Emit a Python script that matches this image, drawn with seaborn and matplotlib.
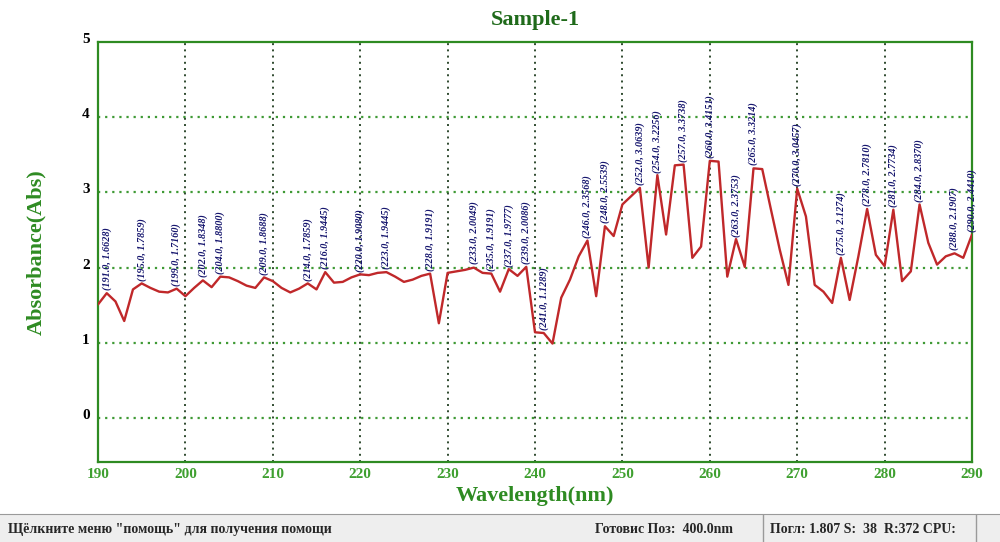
import matplotlib
matplotlib.use("Agg")
import matplotlib.pyplot as plt
import matplotlib.transforms as mtransforms
import numpy as np
import pandas as pd
import seaborn as sns

# spectrum sampled every 1 nm, 190..290
wavelength = list(range(190, 291))
absorbance = [
    1.51, 1.66, 1.55, 1.29, 1.71, 1.79, 1.73, 1.68, 1.67, 1.72,  # 190-199
    1.62, 1.73, 1.83, 1.74, 1.88, 1.87, 1.82, 1.76, 1.73, 1.87,  # 200-209
    1.82, 1.73, 1.67, 1.72, 1.79, 1.71, 1.94, 1.80, 1.81, 1.87,  # 210-219
    1.91, 1.90, 1.93, 1.94, 1.88, 1.81, 1.84, 1.89, 1.92, 1.26,  # 220-229
    1.93, 1.95, 1.97, 2.00, 1.93, 1.92, 1.68, 1.98, 1.89, 2.01,  # 230-239
    1.14, 1.13, 0.99, 1.60, 1.84, 2.15, 2.36, 1.62, 2.55, 2.42,  # 240-249
    2.84, 2.95, 3.06, 2.00, 3.23, 2.44, 3.36, 3.37, 2.13, 2.28,  # 250-259
    3.42, 3.41, 1.88, 2.38, 2.01, 3.32, 3.31, 2.77, 2.24, 1.77,  # 260-269
    3.05, 2.68, 1.77, 1.68, 1.53, 2.13, 1.57, 2.15, 2.78, 2.17,  # 270-279
    2.02, 2.77, 1.82, 1.95, 2.84, 2.33, 2.04, 2.15, 2.19, 2.13,  # 280-289
    2.44,                                                        # 290
]

# peak-picking labels
peak_x = [191, 195, 199, 202, 204, 209, 214, 216, 220, 223, 228, 233, 235, 237,
          239, 241, 246, 248, 252, 254, 257, 260, 263, 265, 270, 275, 278, 281,
          284, 288, 290]
peak_y = [1.6628, 1.7859, 1.7160, 1.8348, 1.8800, 1.8688, 1.7859, 1.9445, 1.9080,
          1.9445, 1.9191, 2.0049, 1.9191, 1.9777, 2.0086, 1.1289, 2.3568, 2.5539,
          3.0639, 3.2256, 3.3738, 3.4151, 2.3753, 3.3214, 3.0457, 2.1274, 2.7810,
          2.7734, 2.8370, 2.1907, 2.4410]

x_ticks = list(range(190, 291, 10))
y_ticks = [0, 1, 2, 3, 4, 5]

status_left = 'Щёлкните меню "помощь" для получения помощи'
status_mid = "Готовис Поз:  400.0nm"
status_right = "Погл: 1.807 S:  38  R:372 CPU:"

sns.set_style("white")
plt.rcParams["font.family"] = ["Liberation Serif", "DejaVu Serif"]

GREEN = "#2e8b22"
DARK_GREEN = "#1f6a1a"

df = pd.DataFrame({"wavelength": wavelength, "absorbance": absorbance})

fig = plt.figure(figsize=(10, 5.42), dpi=100)
ax = fig.add_axes([0.098, 0.1476, 0.874, 0.7749])

sns.lineplot(data=df, x="wavelength", y="absorbance", ax=ax,
             color="#c0282a", linewidth=1.7, zorder=3)

ax.set_xlim(190, 290)
ax.set_ylim(-0.585, 5)
ax.set_xticks(x_ticks)
ax.set_yticks(y_ticks)

for yv in y_ticks[:-1]:
    ax.axhline(yv, color="#3f9a35", linestyle=(0, (1, 2.2)), linewidth=1.6, zorder=1)
for xv in x_ticks[1:-1]:
    ax.axvline(xv, color="#2f4a2f", linestyle=(0, (1, 2.2)), linewidth=1.4, zorder=1)

for sp in ax.spines.values():
    sp.set_color(GREEN)
    sp.set_linewidth(1.6)

ax.tick_params(axis="both", length=0)
ax.tick_params(axis="x", pad=4, labelsize=11, labelcolor="#3fa030")
ax.tick_params(axis="y", pad=6, labelsize=11, labelcolor="black")
for lab in ax.get_xticklabels() + ax.get_yticklabels():
    lab.set_fontweight("bold")
shift = mtransforms.ScaledTranslation(0, 4 / 100, fig.dpi_scale_trans)
for lab in ax.get_yticklabels():
    lab.set_transform(lab.get_transform() + shift)

ax.set_xlabel("Wavelength(nm)", fontsize=16, fontweight="bold", color=GREEN, labelpad=4)
ax.set_ylabel("Absorbance(Abs)", fontsize=16, fontweight="bold", color=GREEN, labelpad=26)
ax.set_title("Sample-1", fontsize=16, fontweight="bold", color=DARK_GREEN, pad=12)

for px, py in zip(peak_x, peak_y):
    ax.annotate(f"({px:.1f}, {py:.4f})", xy=(px, py), xytext=(0, 2),
                textcoords="offset points", rotation=90, ha="center", va="bottom",
                fontsize=7.3, style="italic", fontweight="bold", color="#16166e",
                zorder=4, annotation_clip=False)

# status bar of the instrument window
sb = fig.add_axes([0, 0, 1, 28 / 542])
sb.set_xlim(0, 1)
sb.set_ylim(0, 1)
sb.set_facecolor("#eeeeee")
sb.set_xticks([])
sb.set_yticks([])
for name, sp in sb.spines.items():
    sp.set_visible(name == "top")
sb.spines["top"].set_color("#9a9a9a")
sb.axvline(0.763, color="#9a9a9a", linewidth=1)
sb.axvline(0.976, color="#9a9a9a", linewidth=1)
sb.text(0.008, 0.45, status_left, fontsize=10, fontweight="bold", va="center")
sb.text(0.595, 0.45, status_mid, fontsize=10, fontweight="bold", va="center")
sb.text(0.770, 0.45, status_right, fontsize=10, fontweight="bold", va="center")

fig.savefig("out.png", dpi=100)
